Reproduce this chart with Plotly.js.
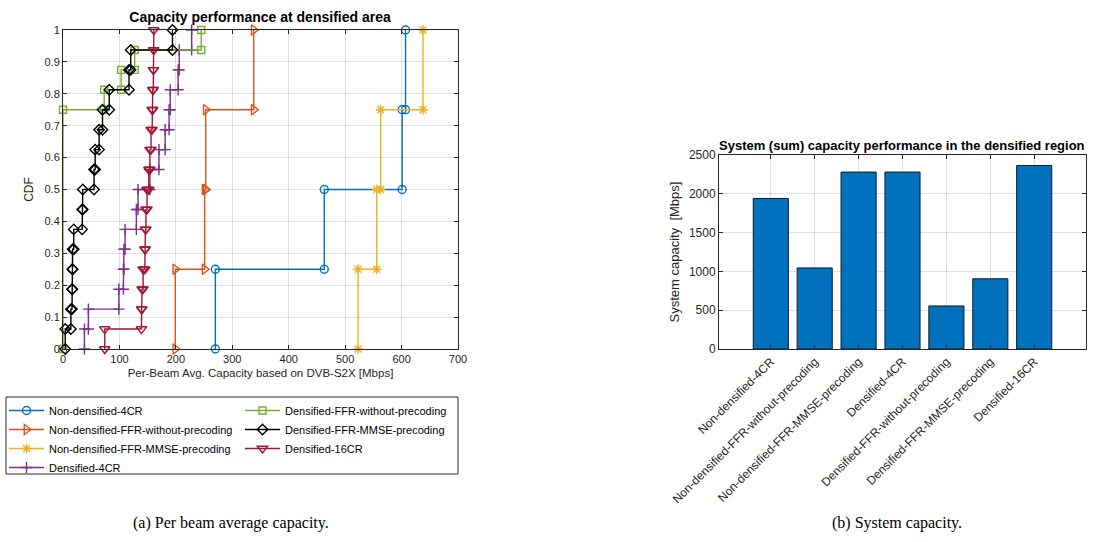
<!DOCTYPE html>
<html>
<head>
<meta charset="utf-8">
<script src="https://cdn.plot.ly/plotly-3.0.1.min.js"></script>
<style>html,body{margin:0;padding:0;background:#fff;}#chart{width:1094px;height:542px;}</style>
</head>
<body>
<div id="chart"></div>
<script>
// ---- Data: per-beam average capacity samples [Mbps] (read from the CDF steps) ----
const seriesNames = [
  "Non-densified-4CR",
  "Non-densified-FFR-without-precoding",
  "Non-densified-FFR-MMSE-precoding",
  "Densified-4CR",
  "Densified-FFR-without-precoding",
  "Densified-FFR-MMSE-precoding",
  "Densified-16CR"
];
const nonDens4CR      = [270, 463, 601, 607];
const nonDensFFRnoPre = [199, 251, 253, 338];
const nonDensFFRmmse  = [523, 556, 563, 638];
const dens4CR         = [38, 45, 99, 107, 108, 110, 130, 133, 154, 170, 181, 188, 190, 204, 206, 228];
const densFFRnoPre    = [0, 0, 0, 0, 0, 0, 0, 0, 0, 0, 0, 0, 73, 103, 127, 245];
const densFFRmmse     = [4, 14, 16, 16.5, 17, 19, 34, 35, 55, 57, 64, 70, 82, 117, 120, 194];
const dens16CR        = [74, 139, 140, 142, 145, 146, 147, 149, 152, 154, 156, 158, 159, 160, 160.5, 161];

// ---- Data: system (sum) capacity [Mbps] ----
const barCategories = [
  "Non-densified-4CR",
  "Non-densified-FFR-without-precoding",
  "Non-densified-FFR-MMSE-precoding",
  "Densified-4CR",
  "Densified-FFR-without-precoding",
  "Densified-FFR-MMSE-precoding",
  "Densified-16CR"
];
const barValues = [1940, 1045, 2280, 2280, 555, 905, 2365];

const xTickVals = [0, 100, 200, 300, 400, 500, 600, 700];
const yTickVals = [0, 0.1, 0.2, 0.3, 0.4, 0.5, 0.6, 0.7, 0.8, 0.9, 1];
const barTickVals = [0, 500, 1000, 1500, 2000, 2500];

// ---- ECDF stairs (like MATLAB ecdf + stairs) ----
function ecdfStairs(samples) {
  const s = samples.slice().sort((a, b) => a - b);
  const n = s.length;
  const u = [], F = [];
  for (let i = 0; i < n; i++) {
    if (i < n - 1 && s[i + 1] === s[i]) continue;
    u.push(s[i]); F.push((i + 1) / n);
  }
  const xs = [], ys = [];
  let prev = 0;
  for (let k = 0; k < u.length; k++) {
    xs.push(u[k]); ys.push(prev);
    xs.push(u[k]); ys.push(F[k]);
    prev = F[k];
  }
  return {x: xs, y: ys};
}

const W = 1094, H = 542;
const px = v => v / W, py = v => 1 - v / H;

const allSamples = [nonDens4CR, nonDensFFRnoPre, nonDensFFRmmse, dens4CR, densFFRnoPre, densFFRmmse, dens16CR];
const colors = ["#0072BD", "#D95319", "#EDB120", "#7E2F8E", "#77AC30", "#000000", "#A2142F"];
const symbols = ["circle-open", "triangle-right-open", "asterisk-open", "cross-thin-open", "square-open", "diamond-open", "triangle-down-open"];
const sizes = [8, 9, 8, 8, 7, 8, 9];

const traces = allSamples.map((smp, i) => {
  const st = ecdfStairs(smp);
  return {
    type: "scatter", mode: "lines+markers",
    x: st.x, y: st.y, name: seriesNames[i],
    xaxis: "x", yaxis: "y",
    line: {color: colors[i], width: 1.4},
    marker: {symbol: symbols[i], size: sizes[i], color: colors[i], line: {color: colors[i], width: 1.4}},
    cliponaxis: false,
    legend: i < 4 ? "legend" : "legend2"
  };
});

traces.push({
  type: "bar", x: barCategories.map((c, i) => i), y: barValues,
  xaxis: "x2", yaxis: "y2", width: 0.8, showlegend: false,
  marker: {color: "#0072BD", line: {color: "#1a1a1a", width: 1}}
});

const axCol = "#262626";
const gridCol = "rgba(38,38,38,0.15)";
const ff = "Liberation Sans, Arial, sans-serif";
const tickFont = {family: ff, size: 11, color: axCol};

const layout = {
  width: W, height: H,
  margin: {l: 0, r: 0, t: 0, b: 0},
  paper_bgcolor: "#fff", plot_bgcolor: "#fff",
  font: {family: ff, color: axCol},
  title: {
    text: "<b>Capacity performance at densified area</b>",
    font: {size: 14, color: "#000"},
    x: px(260), xanchor: "center", y: py(17), yanchor: "middle"
  },
  xaxis: {
    domain: [px(63), px(458)], range: [0, 700], tickvals: xTickVals,
    showline: true, linecolor: axCol, linewidth: 1, mirror: "ticks",
    ticks: "inside", ticklen: 4, tickcolor: axCol,
    showgrid: true, gridcolor: gridCol, zeroline: false,
    tickfont: tickFont,
    title: {text: "Per-Beam Avg. Capacity based on DVB-S2X [Mbps]", font: {size: 11.5, color: axCol}, standoff: 4}
  },
  yaxis: {
    domain: [1 - 349 / H, 1 - 30 / H], range: [0, 1], tickvals: yTickVals,
    showline: true, linecolor: axCol, linewidth: 1, mirror: "ticks",
    ticks: "inside", ticklen: 4, tickcolor: axCol,
    showgrid: true, gridcolor: gridCol, zeroline: false,
    tickfont: tickFont,
    title: {text: "CDF", font: {size: 12, color: axCol}, standoff: 8}
  },
  xaxis2: {
    domain: [px(719), px(1086)], range: [-1.18, 7.18], anchor: "y2",
    tickvals: barCategories.map((c, i) => i), ticktext: barCategories, tickangle: -45,
    showline: true, linecolor: axCol, linewidth: 1, mirror: "ticks",
    ticks: "inside", ticklen: 4, tickcolor: axCol,
    showgrid: true, gridcolor: gridCol, zeroline: false,
    tickfont: {family: ff, size: 12, color: axCol}
  },
  yaxis2: {
    domain: [1 - 349 / H, 1 - 155 / H], range: [0, 2500], anchor: "x2",
    tickvals: barTickVals,
    showline: true, linecolor: axCol, linewidth: 1, mirror: "ticks",
    ticks: "inside", ticklen: 4, tickcolor: axCol,
    showgrid: true, gridcolor: gridCol, zeroline: false,
    tickfont: {family: ff, size: 12, color: axCol},
    title: {text: "System capacity  [Mbps]", font: {size: 13, color: axCol}, standoff: 6}
  },
  legend: {
    x: px(4), y: py(396), xanchor: "left", yanchor: "top",
    bgcolor: "rgba(0,0,0,0)", borderwidth: 0, itemwidth: 35, tracegroupgap: 0,
    font: {size: 11, color: "#000"}
  },
  legend2: {
    x: px(240), y: py(396), xanchor: "left", yanchor: "top",
    bgcolor: "rgba(0,0,0,0)", borderwidth: 0, itemwidth: 35, tracegroupgap: 0,
    font: {size: 11, color: "#000"}
  },
  shapes: [
    {type: "rect", xref: "paper", yref: "paper", x0: px(6), x1: px(458), y0: py(397), y1: py(474),
     line: {color: axCol, width: 1}, fillcolor: "rgba(0,0,0,0)", layer: "below"}
  ],
  annotations: [
    {text: "<b>System (sum) capacity performance in the densified region</b>", xref: "paper", yref: "paper",
     x: px(902), y: py(145), xanchor: "center", yanchor: "middle", showarrow: false,
     font: {size: 13, color: "#000"}},
    {text: "(a) Per beam average capacity.", xref: "paper", yref: "paper",
     x: px(231), y: py(523), xanchor: "center", yanchor: "middle", showarrow: false,
     font: {family: "Liberation Serif, Times New Roman, serif", size: 16, color: "#000"}},
    {text: "(b) System capacity.", xref: "paper", yref: "paper",
     x: px(897), y: py(523), xanchor: "center", yanchor: "middle", showarrow: false,
     font: {family: "Liberation Serif, Times New Roman, serif", size: 16, color: "#000"}}
  ]
};

Plotly.newPlot("chart", traces, layout, {staticPlot: true, displayModeBar: false});
</script>
</body>
</html>
